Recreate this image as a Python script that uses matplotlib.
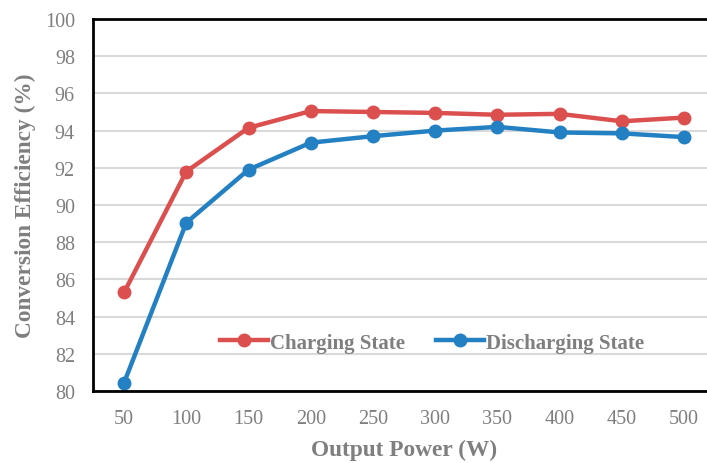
import matplotlib.pyplot as plt

# output power categories and efficiency readings
power = ['50', '100', '150', '200', '250', '300', '350', '400', '450', '500']
charging = [85.3, 91.8, 94.15, 95.05, 95.0, 94.95, 94.85, 94.9, 94.5, 94.7]
discharging = [80.45, 89.05, 91.9, 93.35, 93.7, 94.0, 94.2, 93.9, 93.85, 93.65]

plt.rcParams['font.family'] = ['Liberation Serif', 'DejaVu Serif']
grey = '#7f7f7f'

fig = plt.figure(figsize=(7.07, 4.64), dpi=100)
ax = fig.add_axes([0.1315, 0.155, 0.88, 0.802])

x = range(len(power))
ax.plot(x, charging, color='#dc4f4f', lw=3.2, marker='o', ms=9, label='Charging State')
ax.plot(x, discharging, color='#2380c3', lw=3.2, marker='o', ms=9, label='Discharging State')

ax.set_xlim(-0.5, len(power) - 0.5)
ax.set_ylim(80, 100)
ax.set_yticks(range(80, 101, 2))
ax.set_xticks(list(x))
ax.set_xticklabels(power)
ax.tick_params(length=0, labelsize=14.5, labelcolor=grey)
ax.tick_params(axis='y', pad=13)
ax.tick_params(axis='x', pad=13)
ax.grid(axis='y', color='#d9d9d9', lw=1.5)
ax.set_axisbelow(True)
for s in ax.spines.values():
    s.set_linewidth(2)
    s.set_color('black')

ax.set_xlabel('Output Power (W)', fontsize=16.8, fontweight='bold', color=grey, labelpad=8)
ax.set_ylabel('Conversion Efficiency (%)', fontsize=16.8, fontweight='bold', color=grey, labelpad=6)

leg = ax.legend(loc='center', bbox_to_anchor=(0.545, 0.13), ncol=2, frameon=False,
                handlelength=2.3, handletextpad=0.1, columnspacing=1.5,
                prop={'size': 15, 'weight': 'bold'})
for t in leg.get_texts():
    t.set_color(grey)

fig.savefig('out.png', dpi=100)
